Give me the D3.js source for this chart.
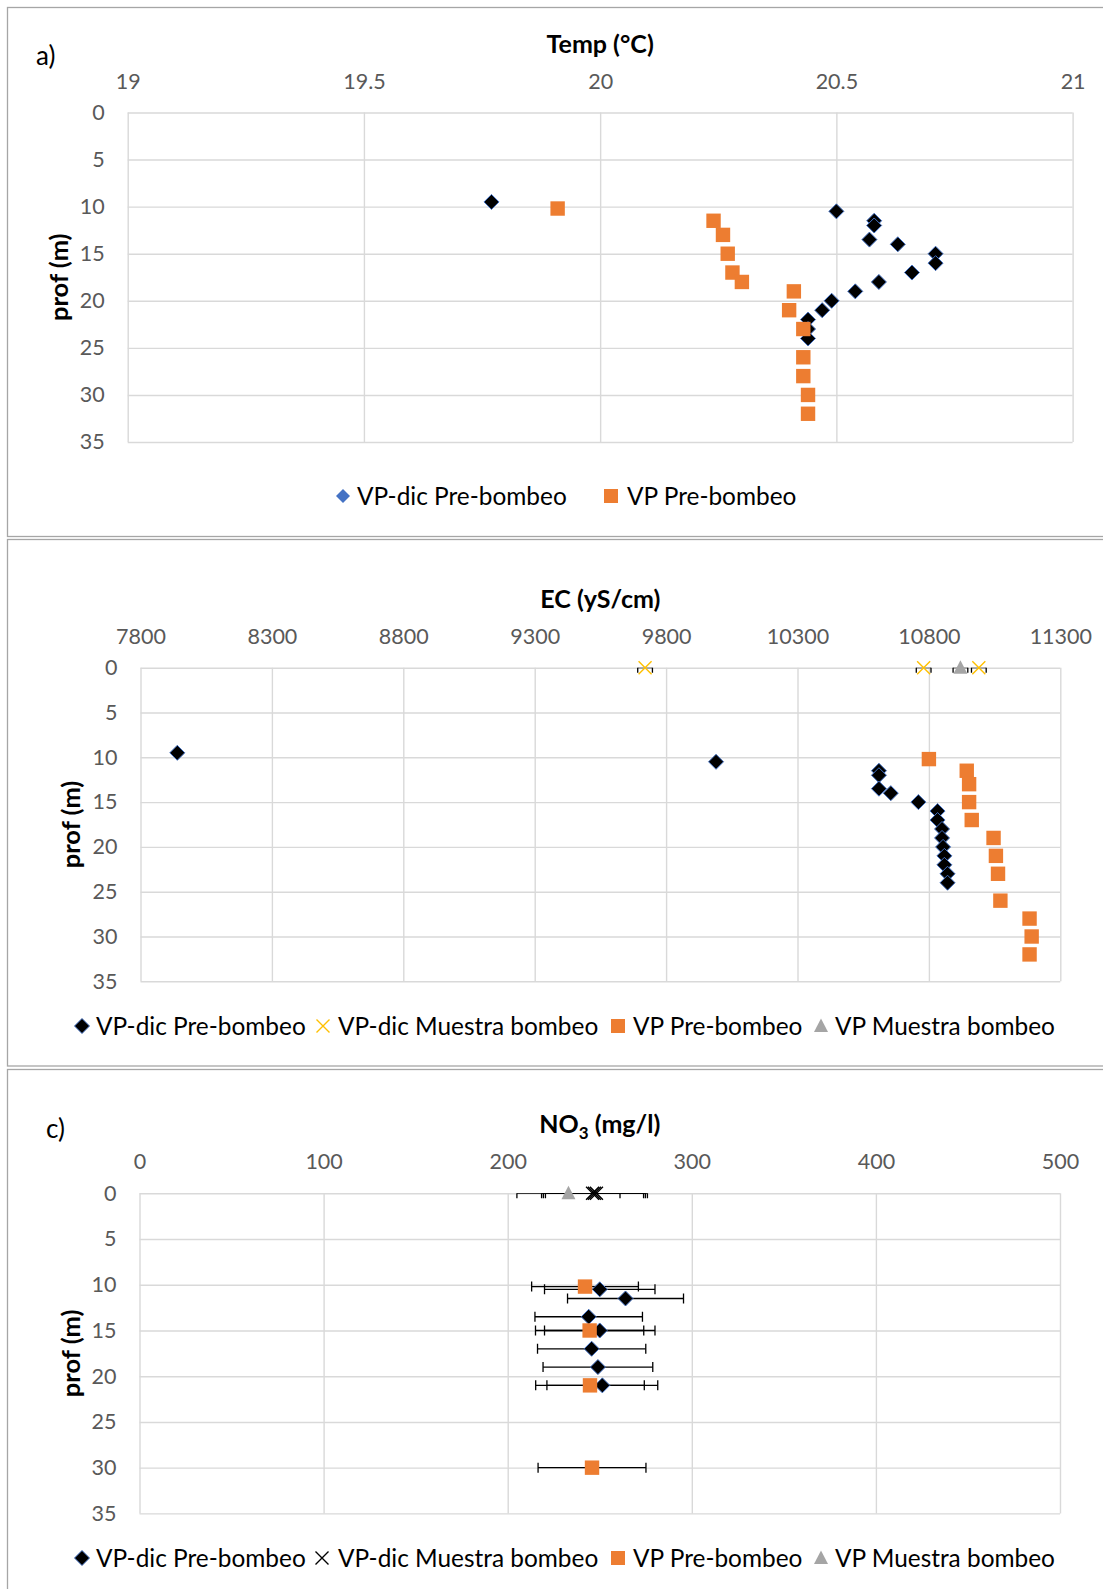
<!DOCTYPE html>
<html>
<head>
<meta charset="utf-8">
<script src="https://cdn.jsdelivr.net/npm/d3@7"></script>
<style>
  body { margin: 0; background: #fff; }
  svg { font-family: Lato, "Open Sans", sans-serif; }
</style>
</head>
<body>
<div id="chart"></div>
<script>

/* ********* Data ********* */

// a) Temperature profile
var tempTicks = [19, 19.5, 20, 20.5, 21];
var tempDicDepth = [9.5, 10.5, 11.5, 12, 13.5, 14, 15, 16, 17, 18, 19, 20, 21, 22, 23, 24];
var tempDicValue = [19.77, 20.50, 20.58, 20.58, 20.57, 20.63, 20.71, 20.71, 20.66, 20.59, 20.54, 20.49, 20.47, 20.44, 20.44, 20.44];
var tempVpDepth = [10.2, 11.5, 13, 15, 17, 18, 19, 21, 23, 26, 28, 30, 32];
var tempVpValue = [19.91, 20.24, 20.26, 20.27, 20.28, 20.30, 20.41, 20.40, 20.43, 20.43, 20.43, 20.44, 20.44];

// b) Electrical conductivity profile
var ecTicks = [7800, 8300, 8800, 9300, 9800, 10300, 10800, 11300];
var ecDicDepth = [9.5, 10.5, 11.5, 12, 13.5, 14, 15, 16, 17, 18, 19, 20, 21, 22, 23, 24];
var ecDicValue = [7940, 9990, 10610, 10610, 10610, 10655, 10760, 10833, 10833, 10850, 10850, 10854, 10859, 10859, 10871, 10871];
var ecDicPumpDepth = [0, 0, 0];
var ecDicPumpValue = [9720, 10780, 10990];
var ecDicPumpErr = [28, 28, 28];
var ecVpDepth = [10.2, 11.5, 13, 15, 17, 19, 21, 23, 26, 28, 30, 32];
var ecVpValue = [10800, 10944, 10953, 10953, 10963, 11046, 11055, 11063, 11072, 11183, 11191, 11183];
var ecVpPumpDepth = [0];
var ecVpPumpValue = [10920];
var ecVpPumpErr = [28];

// c) Nitrate profile
var no3Ticks = [0, 100, 200, 300, 400, 500];
var no3DicDepth = [10.5, 11.5, 13.5, 15, 17, 19, 21];
var no3DicValue = [250, 264, 244, 250, 245.6, 249, 251.4];
var no3DicErr = [30, 31.5, 29.2, 30, 29.4, 29.8, 30.1];
var no3DicPumpDepth = [0, 0, 0];
var no3DicPumpValue = [246.1, 247.1, 248.2];
var no3DicPumpErr = [27.7, 27.7, 27.7];
var no3VpDepth = [10.2, 15, 21, 30];
var no3VpValue = [242, 244.5, 244.7, 245.8];
var no3VpErr = [29, 29.4, 29.5, 29.3];
var no3VpPumpDepth = [0];
var no3VpPumpValue = [233];
var no3VpPumpErr = [28];

var depthTicks = [0, 5, 10, 15, 20, 25, 30, 35];

var seriesNames = ["VP-dic Pre-bombeo", "VP-dic Muestra bombeo", "VP Pre-bombeo", "VP Muestra bombeo"];

/* ********* Styles ********* */

var colors = {
	diamond: "#000000",
	diamondEdge: "#4472C4",
	square: "#ED7D31",
	triangle: "#A5A5A5",
	crossYellow: "#FFC000",
	grid: "#D9D9D9",
	tick: "#595959",
	frame: "#A6A6A6"
};

var svg = d3.select("#chart")
	.append("svg")
	.attr("width", 1103)
	.attr("height", 1589);

// panel frames
svg.append("rect").attr("x", 7.5).attr("y", 7.5).attr("width", 1110).attr("height", 529)
	.attr("fill", "none").attr("stroke", colors.frame).attr("stroke-width", 1.3);
svg.append("rect").attr("x", 7.5).attr("y", 539.5).attr("width", 1110).attr("height", 526.5)
	.attr("fill", "none").attr("stroke", colors.frame).attr("stroke-width", 1.3);
svg.append("rect").attr("x", 7.5).attr("y", 1069.5).attr("width", 1110).attr("height", 600)
	.attr("fill", "none").attr("stroke", colors.frame).attr("stroke-width", 1.3);

/* ********* Marker helpers ********* */

function drawMarker(g, type, color) {
	if (type === "diamond") {
		g.append("path")
			.attr("d", "M0,-7.5L7.5,0L0,7.5L-7.5,0Z")
			.attr("fill", color || colors.diamond)
			.attr("stroke", colors.diamondEdge)
			.attr("stroke-width", 1);
	} else if (type === "square") {
		g.append("rect")
			.attr("x", -7.2).attr("y", -7.2)
			.attr("width", 14.4).attr("height", 14.4)
			.attr("fill", colors.square);
	} else if (type === "triangle") {
		g.append("path")
			.attr("d", "M0,-7.5L7,6L-7,6Z")
			.attr("fill", colors.triangle);
	} else if (type === "cross") {
		g.append("path")
			.attr("d", "M-6.5,-6.5L6.5,6.5M-6.5,6.5L6.5,-6.5")
			.attr("fill", "none")
			.attr("stroke", color)
			.attr("stroke-width", 1.4);
	}
}

function zipPoints(values, depths, errs) {
	return values.map(function(v, i) {
		return { value: v, depth: depths[i], err: errs ? errs[i] : null };
	});
}

/* ********* Panel ********* */

function drawPanel(p) {

	var x = d3.scaleLinear()
		.domain([p.ticks[0], p.ticks[p.ticks.length - 1]])
		.range([p.left, p.right]);

	var y = d3.scaleLinear()
		.domain([0, 35])
		.range([p.top, p.bottom]);

	var g = svg.append("g");

	// grid
	g.append("g")
		.attr("transform", "translate(0," + p.top + ")")
		.call(d3.axisTop(x).tickValues(p.ticks).tickSize(-(p.bottom - p.top)).tickFormat(""))
		.call(a => a.select(".domain").remove())
		.selectAll("line")
		.attr("stroke", colors.grid)
		.attr("stroke-width", 1.4);

	g.append("g")
		.attr("transform", "translate(" + p.left + ",0)")
		.call(d3.axisLeft(y).tickValues(depthTicks).tickSize(-(p.right - p.left)).tickFormat(""))
		.call(a => a.select(".domain").remove())
		.selectAll("line")
		.attr("stroke", colors.grid)
		.attr("stroke-width", 1.4);

	// tick labels
	g.append("g")
		.attr("transform", "translate(0," + p.top + ")")
		.call(d3.axisTop(x).tickValues(p.ticks).tickSize(0).tickPadding(24).tickFormat(d => String(d)))
		.call(a => a.select(".domain").remove())
		.selectAll("text")
		.attr("fill", colors.tick)
		.style("font-size", "21.5px")
		.style("font-family", "Lato, sans-serif");

	g.append("g")
		.attr("transform", "translate(" + p.left + ",0)")
		.call(d3.axisLeft(y).tickValues(depthTicks).tickSize(0).tickPadding(23))
		.call(a => a.select(".domain").remove())
		.selectAll("text")
		.attr("fill", colors.tick)
		.style("font-size", "21.5px")
		.style("font-family", "Lato, sans-serif");

	// axis titles
	var title = g.append("text")
		.attr("x", (p.left + p.right) / 2)
		.attr("y", p.top - 60)
		.attr("text-anchor", "middle")
		.style("font-size", "25px")
		.style("font-weight", "bold");
	p.title(title);

	g.append("text")
		.attr("transform", "translate(" + p.profX + "," + ((p.top + p.bottom) / 2) + ") rotate(-90)")
		.attr("text-anchor", "middle")
		.attr("dy", "0.35em")
		.style("font-size", "25.5px")
		.style("font-weight", "bold")
		.text("prof (m)");

	// error bars, clipped to the plot area
	var clipId = "clip" + p.id;
	svg.append("clipPath").attr("id", clipId)
		.append("rect")
		.attr("x", p.left).attr("y", p.top)
		.attr("width", p.right - p.left).attr("height", p.bottom - p.top);

	var bars = g.append("g").attr("clip-path", "url(#" + clipId + ")");

	p.series.forEach(function(s) {
		var pts = zipPoints(s.values, s.depths, s.errs);
		if (!s.errs) return;
		var eb = bars.selectAll(null)
			.data(pts)
			.join("g")
			.attr("stroke", "#000")
			.attr("stroke-width", 1.3);
		eb.append("line")
			.attr("x1", d => x(d.value - d.err)).attr("x2", d => x(d.value + d.err))
			.attr("y1", d => y(d.depth)).attr("y2", d => y(d.depth));
		eb.append("line")
			.attr("x1", d => x(d.value - d.err)).attr("x2", d => x(d.value - d.err))
			.attr("y1", d => y(d.depth) - 5).attr("y2", d => y(d.depth) + 5);
		eb.append("line")
			.attr("x1", d => x(d.value + d.err)).attr("x2", d => x(d.value + d.err))
			.attr("y1", d => y(d.depth) - 5).attr("y2", d => y(d.depth) + 5);
	});

	// markers
	p.series.forEach(function(s) {
		var pts = zipPoints(s.values, s.depths, s.errs);
		g.append("g").selectAll(null)
			.data(pts)
			.join("g")
			.attr("transform", d => "translate(" + x(d.value) + "," + y(d.depth) + ")")
			.each(function() { drawMarker(d3.select(this), s.marker, s.color); });
	});

	// legend
	var legend = g.append("g").attr("transform", "translate(0," + p.legendY + ")");
	p.legend.forEach(function(item) {
		var li = legend.append("g");
		var m = li.append("g").attr("transform", "translate(" + item.mx + ",0)");
		if (item.marker === "square") {
			m.append("rect").attr("x", -7).attr("y", -7).attr("width", 14).attr("height", 14).attr("fill", colors.square);
		} else if (item.marker === "diamond" && item.color) {
			m.append("path").attr("d", "M0,-7L7,0L0,7L-7,0Z").attr("fill", item.color);
		} else {
			drawMarker(m, item.marker, item.color);
		}
		li.append("text")
			.attr("x", item.tx)
			.attr("dy", "0.35em")
			.style("font-size", "24.4px")
			.attr("fill", "#000")
			.text(item.name);
	});
}

/* ********* a) Temp ********* */

svg.append("text").attr("x", 36).attr("y", 65).style("font-size", "26px").text("a)");

drawPanel({
	id: "a",
	ticks: tempTicks,
	left: 127.7, right: 1072.6, top: 112.5, bottom: 442,
	profX: 59,
	legendY: 496,
	title: t => t.text("Temp (°C)"),
	series: [
		{ values: tempDicValue, depths: tempDicDepth, marker: "diamond" },
		{ values: tempVpValue, depths: tempVpDepth, marker: "square" }
	],
	legend: [
		{ name: seriesNames[0], marker: "diamond", color: colors.diamondEdge, mx: 343, tx: 357 },
		{ name: seriesNames[2], marker: "square", mx: 611, tx: 627 }
	]
});

/* ********* b) EC ********* */

drawPanel({
	id: "b",
	ticks: ecTicks,
	left: 140.5, right: 1060.3, top: 667.7, bottom: 981.3,
	profX: 71,
	legendY: 1026,
	title: t => t.text("EC (yS/cm)"),
	series: [
		{ values: ecDicValue, depths: ecDicDepth, marker: "diamond" },
		{ values: ecDicPumpValue, depths: ecDicPumpDepth, errs: ecDicPumpErr, marker: "cross", color: colors.crossYellow },
		{ values: ecVpValue, depths: ecVpDepth, marker: "square" },
		{ values: ecVpPumpValue, depths: ecVpPumpDepth, errs: ecVpPumpErr, marker: "triangle" }
	],
	legend: [
		{ name: seriesNames[0], marker: "diamond", mx: 82, tx: 96 },
		{ name: seriesNames[1], marker: "cross", color: colors.crossYellow, mx: 323, tx: 338 },
		{ name: seriesNames[2], marker: "square", mx: 618, tx: 633 },
		{ name: seriesNames[3], marker: "triangle", mx: 821, tx: 835 }
	]
});

/* ********* c) NO3 ********* */

svg.append("text").attr("x", 46).attr("y", 1138).style("font-size", "26px").text("c)");

drawPanel({
	id: "c",
	ticks: no3Ticks,
	left: 139.5, right: 1060, top: 1193.3, bottom: 1513.4,
	profX: 71,
	legendY: 1558,
	title: function(t) {
		t.append("tspan").text("NO");
		t.append("tspan").attr("dy", 6).style("font-size", "17px").text("3");
		t.append("tspan").attr("dy", -6).text(" (mg/l)");
	},
	series: [
		{ values: no3DicValue, depths: no3DicDepth, errs: no3DicErr, marker: "diamond" },
		{ values: no3DicPumpValue, depths: no3DicPumpDepth, errs: no3DicPumpErr, marker: "cross", color: "#000" },
		{ values: no3VpValue, depths: no3VpDepth, errs: no3VpErr, marker: "square" },
		{ values: no3VpPumpValue, depths: no3VpPumpDepth, errs: no3VpPumpErr, marker: "triangle" }
	],
	legend: [
		{ name: seriesNames[0], marker: "diamond", mx: 82, tx: 96 },
		{ name: seriesNames[1], marker: "cross", color: "#000", mx: 322, tx: 338 },
		{ name: seriesNames[2], marker: "square", mx: 618, tx: 633 },
		{ name: seriesNames[3], marker: "triangle", mx: 821, tx: 835 }
	]
});

</script>
</body>
</html>
